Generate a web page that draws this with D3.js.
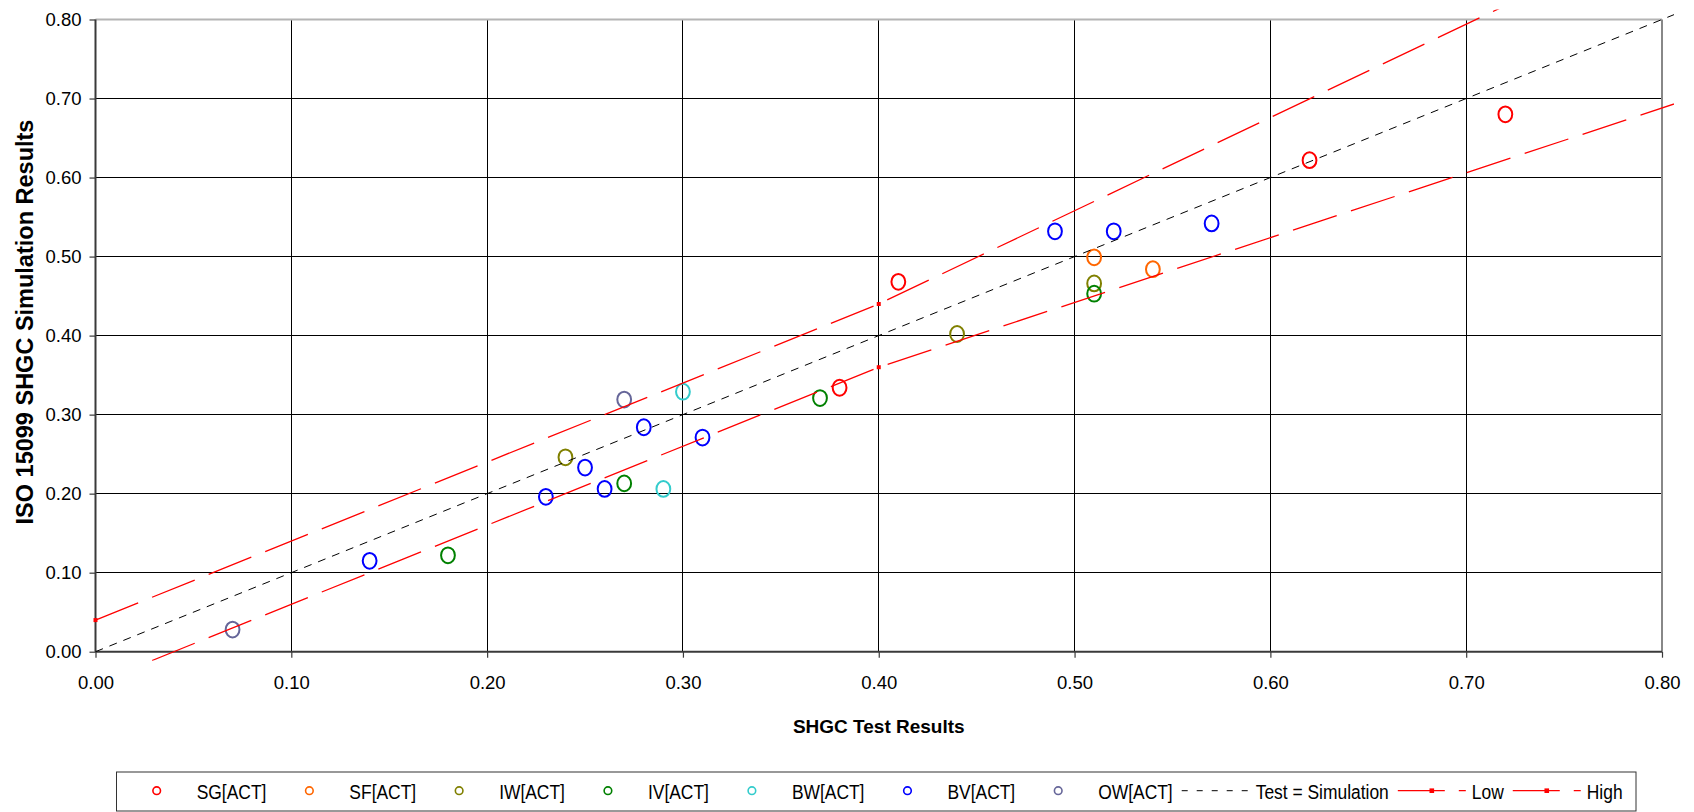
<!DOCTYPE html>
<html>
<head>
<meta charset="utf-8">
<script src="https://cdn.jsdelivr.net/npm/d3@7"></script>
<style>
  body { margin: 0; background: #fff; }
  svg { display: block; }
</style>
</head>
<body>
<svg id="chart" width="1694" height="812"></svg>
<script>
// tick values (both axes)
const axisTicks = [0, 0.1, 0.2, 0.3, 0.4, 0.5, 0.6, 0.7, 0.8];

// scatter series: SHGC test result (x) vs ISO 15099 simulation (y)
const sgX = [0.38, 0.41, 0.62, 0.72];
const sgY = [0.334, 0.468, 0.622, 0.680];
const sfX = [0.51, 0.54];
const sfY = [0.499, 0.484];
const iwX = [0.24, 0.44, 0.51];
const iwY = [0.246, 0.402, 0.466];
const ivX = [0.18, 0.27, 0.37, 0.51];
const ivY = [0.122, 0.213, 0.321, 0.453];
const bwX = [0.29, 0.30];
const bwY = [0.206, 0.329];
const bvX = [0.14, 0.23, 0.25, 0.26, 0.28, 0.31, 0.49, 0.52, 0.57];
const bvY = [0.115, 0.196, 0.233, 0.206, 0.284, 0.271, 0.532, 0.532, 0.542];
const owX = [0.07, 0.27];
const owY = [0.028, 0.319];

// reference lines
const eqX = [0, 1.0];
const eqY = [0, 1.0];
const lowX = [0, 0.40, 0.90];
const lowY = [-0.04, 0.36, 0.77];
const highX = [0, 0.40, 0.90];
const highY = [0.04, 0.44, 1.03];

const seriesNames = ["SG[ACT]", "SF[ACT]", "IW[ACT]", "IV[ACT]", "BW[ACT]", "BV[ACT]", "OW[ACT]"];
const seriesColors = ["#ff0000", "#ff6600", "#808000", "#008000", "#33cccc", "#0000ff", "#666699"];

document.addEventListener("DOMContentLoaded", () => {
  const svg = d3.select("#chart");
  const left = 95.5, right = 1662, top = 19.5, bottom = 651.7;

  const x = d3.scaleLinear().domain([0, 0.8]).range([left, right]);
  const y = d3.scaleLinear().domain([0, 0.8]).range([bottom, top]);
  const fmt = d3.format(".2f");

  // gridlines
  const grid = svg.append("g").attr("shape-rendering", "crispEdges");
  grid.selectAll("line.h").data(axisTicks.slice(1, -1)).join("line")
    .attr("x1", left).attr("x2", right)
    .attr("y1", d => y(d)).attr("y2", d => y(d))
    .attr("stroke", "#000").attr("stroke-width", 1);
  grid.selectAll("line.v").data(axisTicks.slice(1, -1)).join("line")
    .attr("y1", top).attr("y2", bottom)
    .attr("x1", d => x(d)).attr("x2", d => x(d))
    .attr("stroke", "#000").attr("stroke-width", 1);

  // plot border (top / right lighter, like the original)
  svg.append("line").attr("x1", left).attr("x2", right).attr("y1", top).attr("y2", top)
    .attr("stroke", "#b4b4b4").attr("stroke-width", 2);
  svg.append("line").attr("x1", right).attr("x2", right).attr("y1", top).attr("y2", bottom)
    .attr("stroke", "#888").attr("stroke-width", 2);

  // axes
  const yAxis = d3.axisLeft(y).tickValues(axisTicks).tickFormat(fmt).tickSize(6).tickPadding(8);
  const xAxis = d3.axisBottom(x).tickValues(axisTicks).tickFormat(fmt).tickSize(6).tickPadding(18);

  const gy = svg.append("g").attr("transform", `translate(${left},0)`).call(yAxis);
  const gx = svg.append("g").attr("transform", `translate(0,${bottom})`).call(xAxis);
  [gx, gy].forEach(g => {
    g.select(".domain").attr("stroke", "#3a3a3a").attr("stroke-width", 2);
    g.selectAll(".tick line").attr("stroke", "#3a3a3a").attr("stroke-width", 1.2);
    g.selectAll(".tick text")
      .attr("font-family", "'Liberation Sans', Arial, sans-serif")
      .attr("font-size", "18.5px")
      .attr("fill", "#000");
  });
  gy.select(".domain").attr("d", `M0,${top}V${bottom}`);
  gx.select(".domain").attr("d", `M${left},0H${right}`);

  // axis titles
  svg.append("text")
    .attr("x", (left + right) / 2).attr("y", 733)
    .attr("text-anchor", "middle")
    .attr("font-family", "'Liberation Sans', Arial, sans-serif")
    .attr("font-weight", "bold").attr("font-size", "19px")
    .text("SHGC Test Results");
  svg.append("text")
    .attr("transform", "translate(33,322) rotate(-90)")
    .attr("text-anchor", "middle")
    .attr("font-family", "'Liberation Sans', Arial, sans-serif")
    .attr("font-weight", "bold").attr("font-size", "23.5px")
    .text("ISO 15099 SHGC Simulation Results");

  // clip slightly larger than the plot, lines overshoot the frame a bit
  svg.append("clipPath").attr("id", "plotclip").append("rect")
    .attr("x", left - 10).attr("y", top - 10)
    .attr("width", right - left + 22).attr("height", bottom - top + 19);

  const plot = svg.append("g").attr("clip-path", "url(#plotclip)");

  // scatter markers
  const scatter = [[sgX, sgY], [sfX, sfY], [iwX, iwY], [ivX, ivY], [bwX, bwY], [bvX, bvY], [owX, owY]];
  scatter.forEach(([xs, ys], i) => {
    plot.append("g").selectAll("ellipse")
      .data(xs.map((v, j) => [v, ys[j]]))
      .join("ellipse")
      .attr("cx", d => x(d[0])).attr("cy", d => y(d[1]))
      .attr("rx", 6.9).attr("ry", 7.9)
      .attr("fill", "none")
      .attr("stroke", seriesColors[i])
      .attr("stroke-width", 2);
  });

  const line = d3.line().x(d => x(d[0])).y(d => y(d[1]));

  // Test = Simulation
  plot.append("path")
    .attr("d", line(eqX.map((v, j) => [v, eqY[j]])))
    .attr("fill", "none").attr("stroke", "#000")
    .attr("stroke-width", 1).attr("stroke-dasharray", "8,7");

  // Low / High
  [[lowX, lowY], [highX, highY]].forEach(([xs, ys]) => {
    const pts = xs.map((v, j) => [v, ys[j]]);
    plot.append("path")
      .attr("d", line(pts))
      .attr("fill", "none").attr("stroke", "#ff0000")
      .attr("stroke-width", 1.3).attr("stroke-dasharray", "46,15");
    plot.append("g").selectAll("rect").data(pts).join("rect")
      .attr("x", d => x(d[0]) - 2).attr("y", d => y(d[1]) - 2)
      .attr("width", 4).attr("height", 4)
      .attr("fill", "#ff0000");
  });

  // legend
  const legend = svg.append("g");
  legend.append("rect")
    .attr("x", 116.5).attr("y", 772).attr("width", 1519.5).attr("height", 39)
    .attr("fill", "#fff").attr("stroke", "#333").attr("stroke-width", 1);

  const items = seriesNames.map((n, i) => ({ name: n, type: "dot", color: seriesColors[i] }))
    .concat([
      { name: "Test = Simulation", type: "eq" },
      { name: "Low", type: "tol" },
      { name: "High", type: "tol" }
    ]);

  // the legend font is a condensed Arial: squeeze Liberation Sans horizontally
  const squeeze = 0.83;
  const ly = 790.7;
  let lx = 122.7;
  items.forEach(it => {
    const cx = lx + 34;
    if (it.type === "dot") {
      legend.append("circle").attr("cx", cx).attr("cy", ly).attr("r", 3.8)
        .attr("fill", "none").attr("stroke", it.color).attr("stroke-width", 1.6);
    } else if (it.type === "eq") {
      legend.append("line").attr("x1", lx).attr("x2", lx + 68).attr("y1", ly).attr("y2", ly)
        .attr("stroke", "#000").attr("stroke-width", 1).attr("stroke-dasharray", "6,9");
    } else {
      legend.append("line").attr("x1", lx).attr("x2", lx + 68).attr("y1", ly).attr("y2", ly)
        .attr("stroke", "#ff0000").attr("stroke-width", 1.3).attr("stroke-dasharray", "47,14");
      legend.append("rect").attr("x", cx - 2.3).attr("y", ly - 2.3)
        .attr("width", 4.6).attr("height", 4.6).attr("fill", "#ff0000");
    }
    const t = legend.append("text")
      .attr("transform", `translate(${lx + 74},799) scale(${squeeze},1)`)
      .attr("font-family", "'Liberation Sans', Arial, sans-serif")
      .attr("font-size", "21px")
      .text(it.name);
    lx = lx + 74 + t.node().getComputedTextLength() * squeeze + 9;
  });
});
</script>
</body>
</html>
